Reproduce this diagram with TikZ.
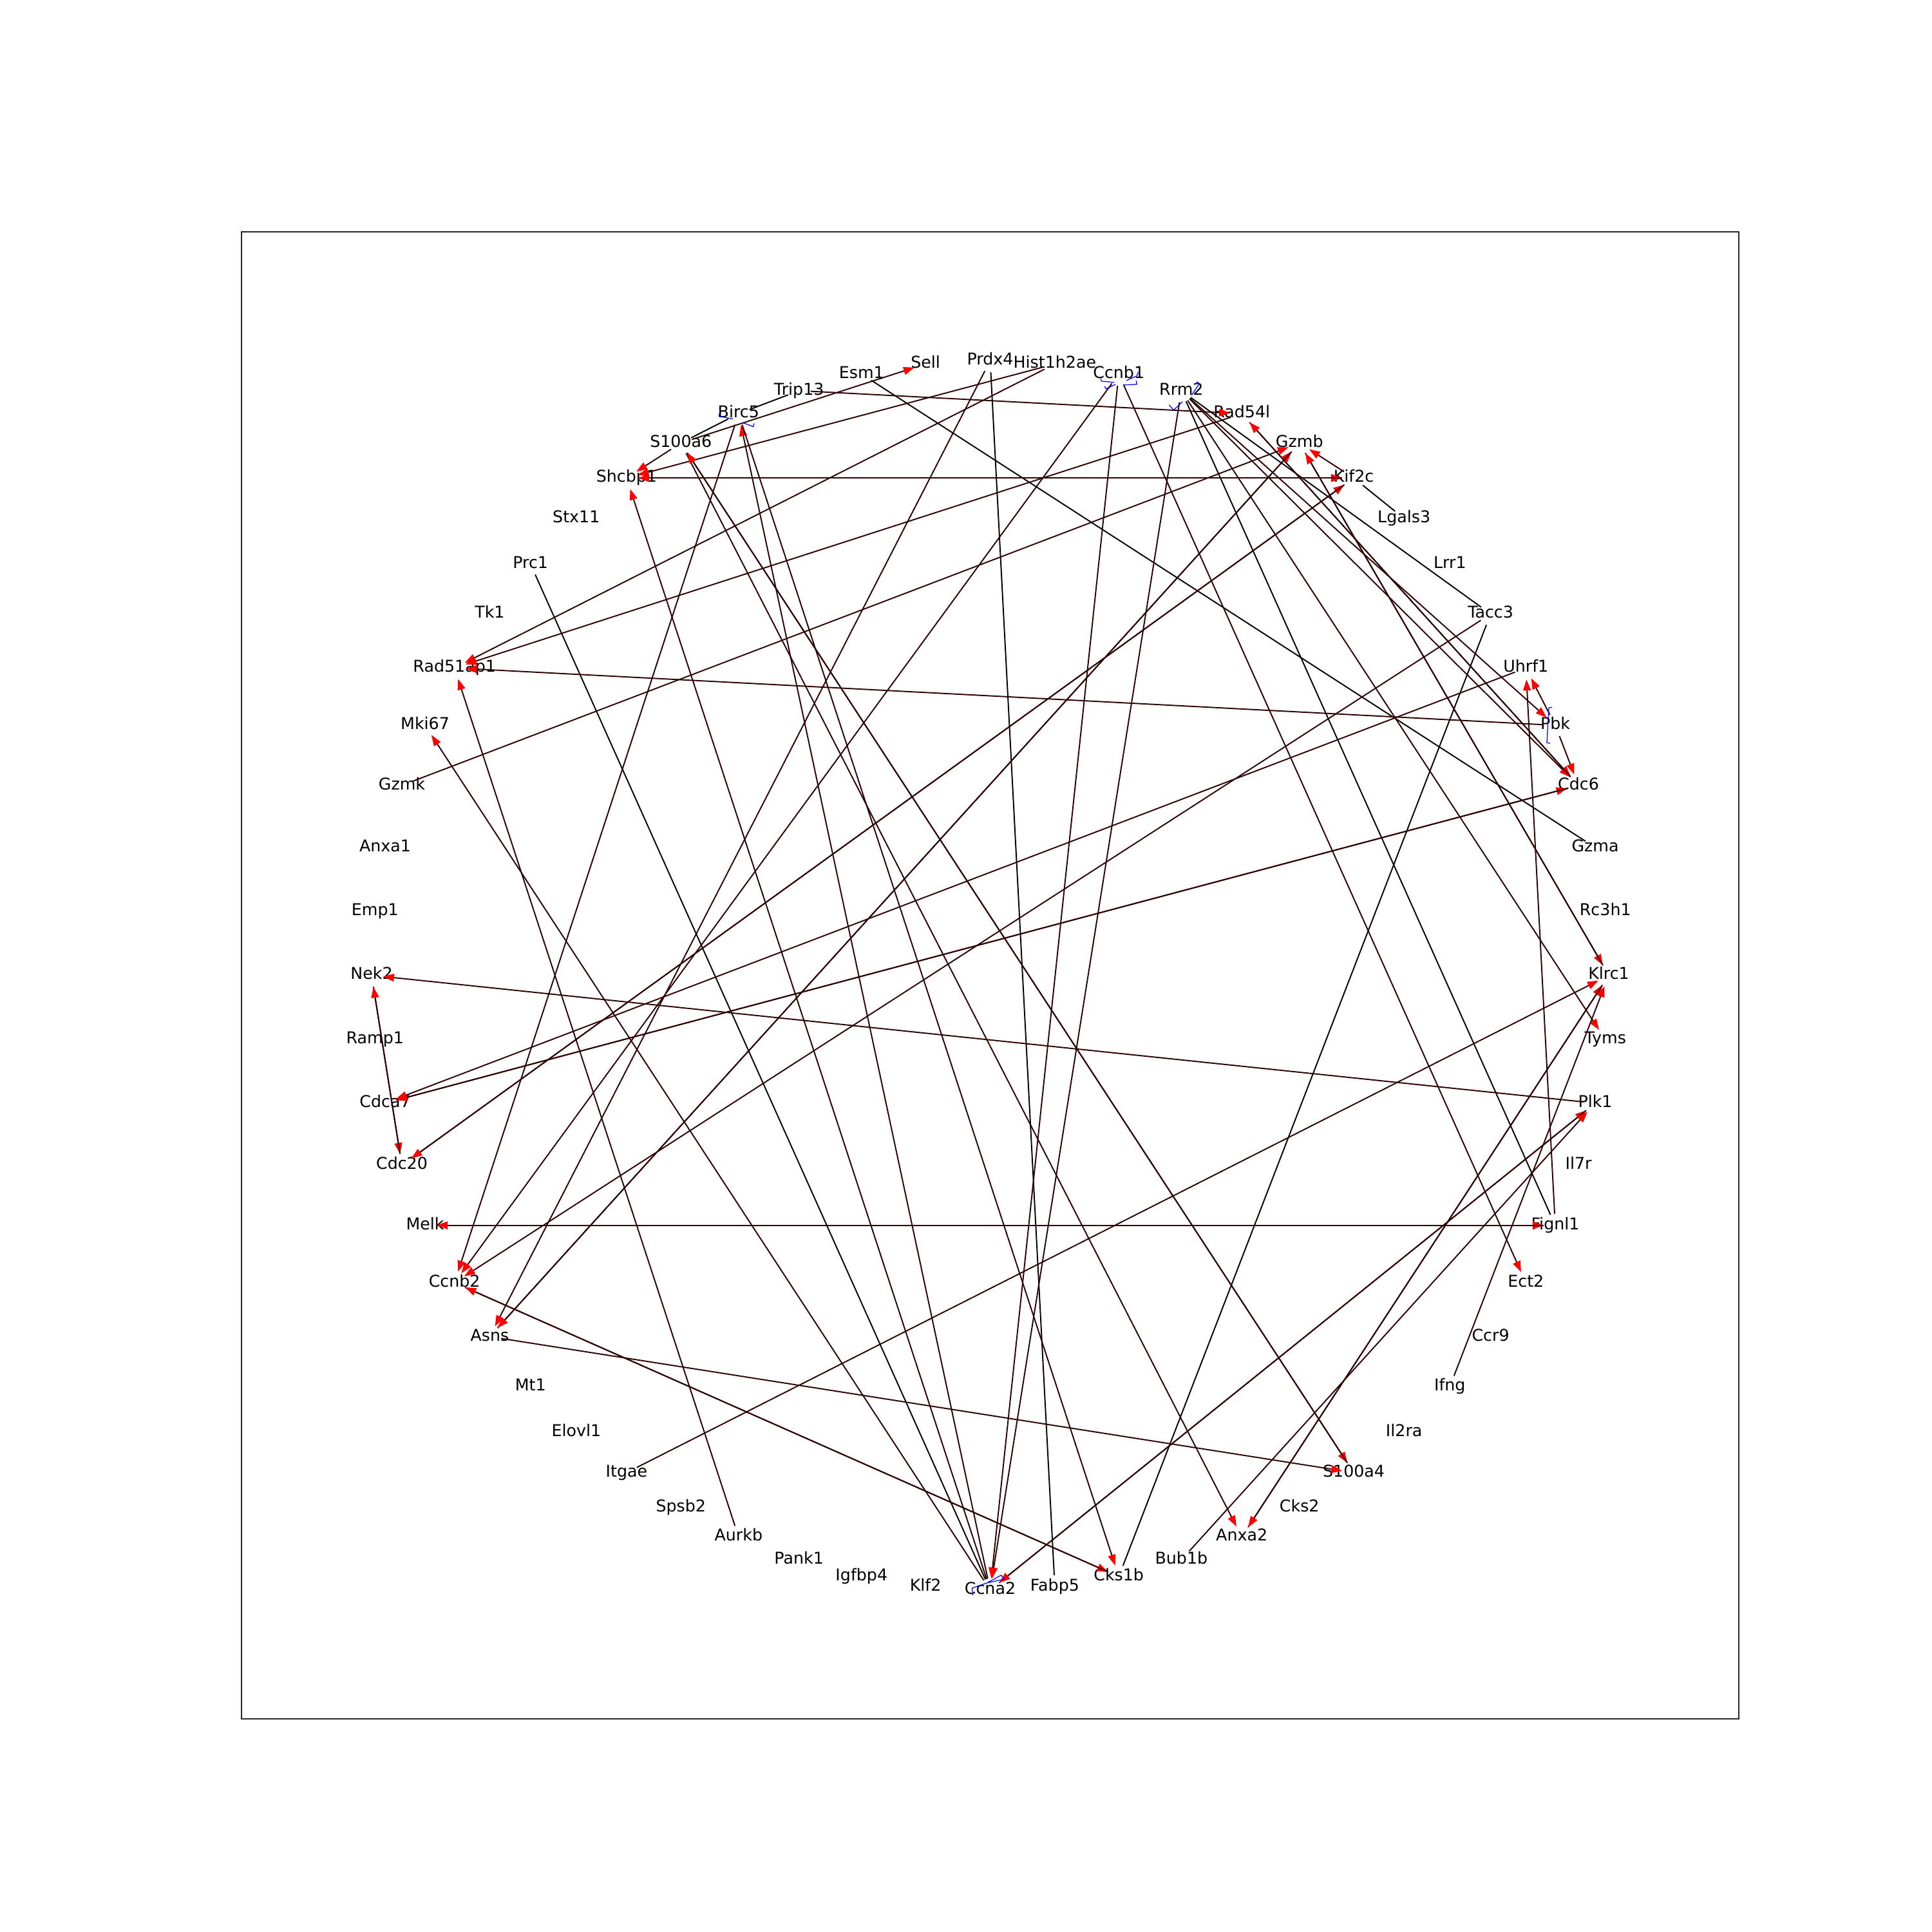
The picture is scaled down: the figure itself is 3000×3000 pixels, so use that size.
\documentclass[tikz,border=0pt]{standalone}
\usepackage{fontspec}
\setmainfont{DejaVu Sans}
\usetikzlibrary{arrows.meta}
\tikzset{
  gene/.style={font=\fontsize{7.2}{8.6}\selectfont, inner sep=0pt, text height=5.4pt, text depth=1.7pt},
  lnk/.style={draw=black, line width=0.55pt, shorten <=1.8mm, shorten >=1.8mm},
  arc/.style={lnk, draw=black!82!red, -{Triangle[length=1.7mm, width=1.2mm, color=red, fill=red]}},
  selfl/.style={draw=blue, line width=0.35pt},
  frm/.style={draw=black!85, line width=0.4pt},
}

\begin{document}
\begin{tikzpicture}[x=0.1mm, y=0.1mm]
  \useasboundingbox (0,0) rectangle (3000,3000);
  \draw[frm] (375,331) rectangle (2700,2640);
  \foreach \g [count=\k from 0] in {Klrc1,Rc3h1,Gzma,Cdc6,Pbk,Uhrf1,Tacc3,Lrr1,Lgals3,Kif2c,
      Gzmb,Rad54l,Rrm2,Ccnb1,Hist1h2ae,Prdx4,Sell,Esm1,Trip13,Birc5,
      S100a6,Shcbp1,Stx11,Prc1,Tk1,Rad51ap1,Mki67,Gzmk,Anxa1,Emp1,
      Nek2,Ramp1,Cdca7,Cdc20,Melk,Ccnb2,Asns,Mt1,Elovl1,Itgae,
      Spsb2,Aurkb,Pank1,Igfbp4,Klf2,Ccna2,Fabp5,Cks1b,Bub1b,Anxa2,
      Cks2,S100a4,Il2ra,Ifng,Ccr9,Ect2,Fignl1,Il7r,Plk1,Tyms}
    \node[gene] (\g) at ([shift={(1537.5,1485.5)}]\k*6:960.5 and 954.5) {\g};
  \foreach \a/\b in {Trip13/Birc5,Birc5/S100a6,Esm1/Gzma,Prdx4/Fabp5,Kif2c/Lgals3,
      Rrm2/Fignl1,Rrm2/Tacc3,Tacc3/Cks1b,Prc1/Ccna2}
    \draw[lnk] (\a.center) -- (\b.center);
  \foreach \a/\b in {S100a6/Sell,S100a6/Shcbp1,Trip13/Rad54l,Prdx4/Asns,Hist1h2ae/Shcbp1,
      Hist1h2ae/Rad51ap1,Ccnb1/Ccnb2,Ccnb1/Ccna2,Ccnb1/Ect2,Rrm2/Ccna2,Rrm2/Tyms,Rrm2/Cdc6,
      Rrm2/Pbk,Rad54l/Rad51ap1,Rad54l/Cdc6,Cdc6/Rad54l,Gzmk/Gzmb,Asns/Gzmb,Gzmb/Asns,
      Gzmb/Klrc1,Klrc1/Gzmb,Kif2c/Gzmb,Shcbp1/Kif2c,Kif2c/Shcbp1,Cdc20/Kif2c,Kif2c/Cdc20,
      Ccna2/Shcbp1,S100a6/Anxa2,S100a6/S100a4,S100a4/S100a6,Birc5/Ccnb2,Ccna2/Birc5,
      Birc5/Cks1b,Ccna2/Plk1,Plk1/Ccna2,Bub1b/Plk1,Itgae/Klrc1,Anxa2/Klrc1,Klrc1/Anxa2,
      Ifng/Klrc1,Tacc3/Ccnb2,Pbk/Uhrf1,Fignl1/Uhrf1,Uhrf1/Cdca7,Cdca7/Cdc6,Cdc6/Cdca7,
      Nek2/Cdc20,Cdc20/Nek2,Plk1/Nek2,Melk/Fignl1,Fignl1/Melk,Pbk/Rad51ap1,Pbk/Cdc6,
      Aurkb/Rad51ap1,Ccna2/Mki67,Asns/S100a4,Ccnb2/Cks1b,Cks1b/Ccnb2}
    \draw[arc] (\a.center) -- (\b.center);
  % self loops
  \draw[selfl, shift={(Birc5.center)}] (-30,0) -- (-30,-4) -- (-9,-8) (7,-14) -- (23,-20) -- (24,-15);
  \draw[selfl, shift={(Ccnb1.center)}] (-28,-7) -- (-27,-11) -- (-7,-13) (-22,-19) -- (-20,-23) -- (-5,-16)
    (12,-10) -- (28,-3) -- (30,3) (7,-17) -- (28,-16) -- (27,-10);
  \draw[selfl, shift={(Rrm2.center)}] (-19,-22) -- (-12,-30) -- (2,-17) (24,14) -- (28,11) -- (16,-7);
  \draw[selfl, shift={(Pbk.center)}] (-5,28) -- (-10,27) -- (-13,-27) -- (-8,-28);
  \draw[selfl, shift={(Ccna2.center)}] (-27,-8) -- (-28,3) -- (-5,11) -- (17,23) -- (22,17) -- (-5,11);
\end{tikzpicture}
\end{document}
